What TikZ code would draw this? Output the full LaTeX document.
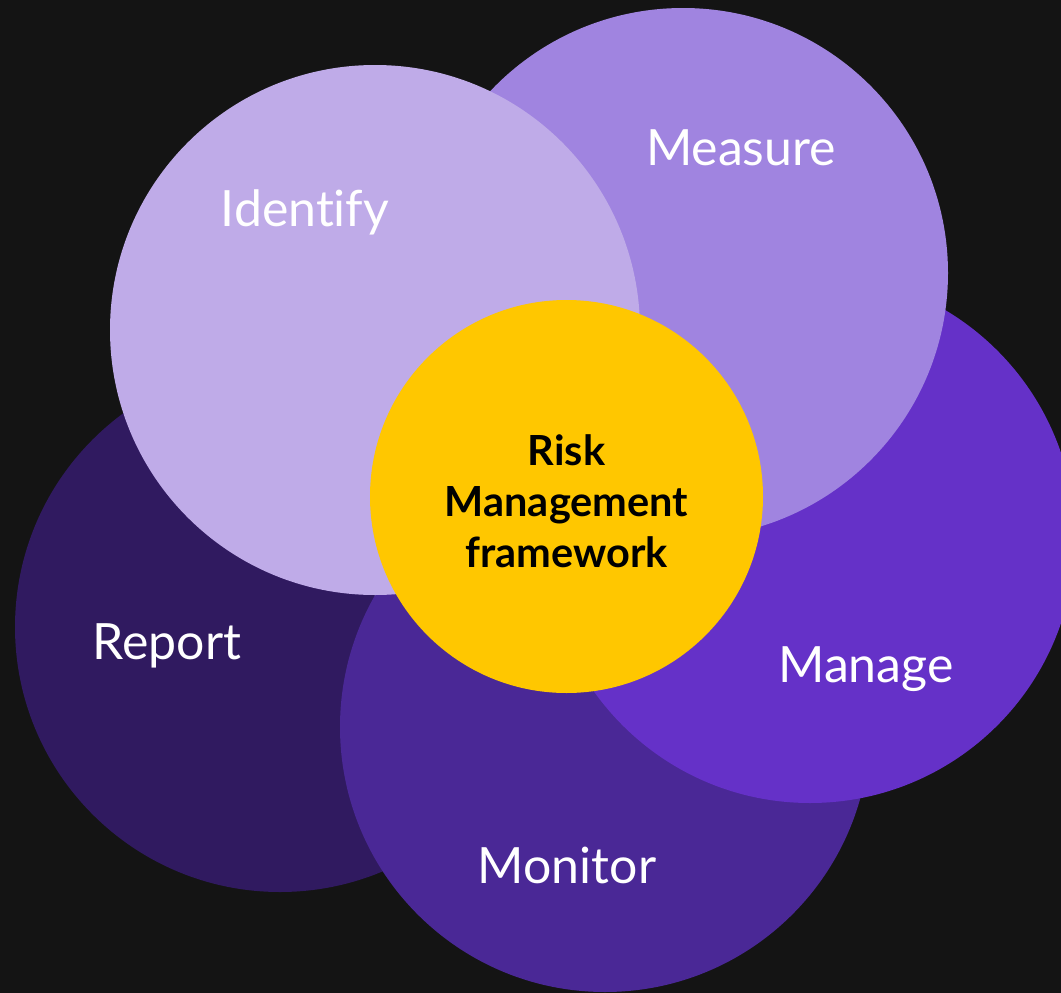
\documentclass[tikz,border=0pt]{standalone}
\usepackage{fontspec}
\setmainfont{Lato}[Ligatures={NoCommon}]
\definecolor{bg}{HTML}{141414}
\definecolor{creport}{HTML}{301A60}
\definecolor{cmonitor}{HTML}{4A2896}
\definecolor{cmanage}{HTML}{6531C8}
\definecolor{cmeasure}{HTML}{A084E0}
\definecolor{cidentify}{HTML}{BFABE8}
\definecolor{ccore}{HTML}{FFC700}
\tikzset{
  disc/.style={circle, draw=none, inner sep=0pt, minimum size=530pt},
  lab/.style={text=white, font=\fontsize{50}{60}\selectfont, inner sep=0pt, anchor=base},
  core/.style={circle, draw=none, fill=ccore, inner sep=0pt, minimum size=393pt},
  coretext/.style={align=center, inner sep=0pt, font=\fontsize{41.5}{51}\selectfont\bfseries, text=black}
}
\begin{document}
\begin{tikzpicture}[x=1pt,y=-1pt]
\fill[bg] (0,0) rectangle (1061,993);
\useasboundingbox (0,0) rectangle (1061,993);
\node[disc, fill=creport] (report) at (280,627) {};
\node[disc, fill=cmonitor] (monitor) at (605,727) {};
\node[disc, fill=cmanage] (manage) at (810,538) {};
\node[disc, fill=cmeasure] (measure) at (683,273) {};
\node[disc, fill=cidentify] (identify) at (375,330) {};
\node[core] (center) at (566.5,496.5) {};
\node[coretext, anchor=base] (ctext) at (566.5,567) {Risk\\Management\\framework};
\node[lab] (lidentify) at (305,226) {Identify};
\node[lab] (lmeasure) at (741,165) {Measure};
\node[lab] (lreport) at (167,659) {Report};
\node[lab] (lmanage) at (866,682) {Manage};
\node[lab] (lmonitor) at (567,883) {Monitor};
\end{tikzpicture}
\end{document}
